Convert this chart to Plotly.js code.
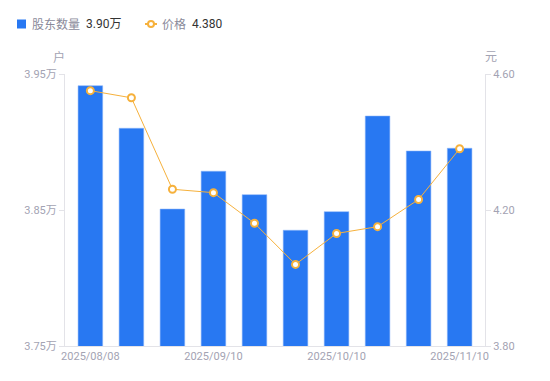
<!DOCTYPE html>
<html>
<head>
<meta charset="utf-8">
<script src="https://cdn.plot.ly/plotly-3.0.1.min.js"></script>
<style>
html,body{margin:0;padding:0;background:#fff;}
#chart{width:550px;height:381px;}
</style>
</head>
<body>
<div id="chart"></div>
<script>
// Data
var dates = ['2025/08/08','2025/08/20','2025/08/29','2025/09/10','2025/09/19','2025/09/30','2025/10/10','2025/10/20','2025/10/31','2025/11/10'];
var holders = [3.9414, 3.9101, 3.8507, 3.8785, 3.8613, 3.8351, 3.8488, 3.9191, 3.8934, 3.8954]; // 万户
var prices = [4.551, 4.530, 4.261, 4.251, 4.161, 4.040, 4.131, 4.151, 4.231, 4.380]; // 元
var xTickDates = ['2025/08/08','2025/09/10','2025/10/10','2025/11/10'];
var leftTicks = [3.75, 3.85, 3.95];
var rightTicks = [3.80, 4.20, 4.60];

var BLUE = '#2878f2';
var ORANGE = '#f6b13c';
var TICK = '#a3a3b3';

var traces = [
  {
    type: 'bar', x: dates, y: holders, yaxis: 'y', name: '股东数量',
    marker: {color: BLUE, line: {color: 'rgba(140,180,250,0.9)', width: 0.6}},
    hoverinfo: 'x+y'
  },
  {
    type: 'scatter', mode: 'lines+markers', x: dates, y: prices, yaxis: 'y2', name: '价格',
    line: {color: ORANGE, width: 1},
    marker: {symbol: 'circle', size: 7, color: '#ffffff', line: {color: ORANGE, width: 2}}
  }
];

var lastHolders = holders[holders.length - 1].toFixed(2) + '万';
var lastPrice = prices[prices.length - 1].toFixed(3);

function px(x) { return (x - 65) / 420; }
var LY = 1 + 50 / 272;

var layout = {
  width: 550, height: 381,
  margin: {l: 65, r: 65, t: 74, b: 35},
  paper_bgcolor: '#ffffff', plot_bgcolor: '#ffffff',
  showlegend: false,
  bargap: 0.4,
  font: {family: 'Roboto, "Noto Sans CJK SC", sans-serif', size: 11, color: TICK},
  xaxis: {
    type: 'category',
    tickmode: 'array', tickvals: xTickDates, ticktext: xTickDates,
    showline: true, linecolor: '#e3e3e8', linewidth: 1,
    ticks: '', showgrid: false, zeroline: false,
    tickfont: {size: 11, color: TICK},
    fixedrange: true
  },
  yaxis: {
    range: [3.75, 3.95], tickmode: 'array', tickvals: leftTicks,
    ticktext: leftTicks.map(function(v){return v.toFixed(2) + '万';}),
    showline: true, linecolor: '#e3e3e8', linewidth: 1,
    ticks: 'outside', ticklen: 5, tickcolor: '#e3e3e8',
    showgrid: false, zeroline: false,
    tickfont: {size: 11, color: TICK}
  },
  yaxis2: {
    overlaying: 'y', side: 'right',
    range: [3.8, 4.6], tickmode: 'array', tickvals: rightTicks,
    ticktext: rightTicks.map(function(v){return v.toFixed(2);}),
    showline: true, linecolor: '#e3e3e8', linewidth: 1,
    ticks: 'outside', ticklen: 5, tickcolor: '#e3e3e8',
    showgrid: false, zeroline: false,
    tickfont: {size: 11, color: TICK}
  },
  shapes: [
    {type: 'rect', xref: 'paper', yref: 'paper', x0: px(17), x1: px(26), y0: 1 + 45.5/272, y1: 1 + 54.5/272,
     fillcolor: BLUE, line: {width: 0}},
    {type: 'line', xref: 'paper', yref: 'paper', x0: px(145), x1: px(157), y0: LY, y1: LY,
     line: {color: ORANGE, width: 2}},
    {type: 'circle', xref: 'paper', yref: 'paper', x0: px(148), x1: px(154), y0: 1 + 47/272, y1: 1 + 53/272,
     fillcolor: '#ffffff', line: {color: ORANGE, width: 2}}
  ],
  annotations: [
    {xref: 'paper', yref: 'paper', x: px(30), y: LY, xanchor: 'left', yanchor: 'middle', showarrow: false,
     text: '股东数量', font: {size: 12, color: '#8a8a9a'}},
    {xref: 'paper', yref: 'paper', x: px(84), y: LY, xanchor: 'left', yanchor: 'middle', showarrow: false,
     text: lastHolders, font: {size: 12, color: '#333333'}},
    {xref: 'paper', yref: 'paper', x: px(160), y: LY, xanchor: 'left', yanchor: 'middle', showarrow: false,
     text: '价格', font: {size: 12, color: '#8a8a9a'}},
    {xref: 'paper', yref: 'paper', x: px(190), y: LY, xanchor: 'left', yanchor: 'middle', showarrow: false,
     text: lastPrice, font: {size: 12, color: '#333333'}},
    {xref: 'paper', yref: 'paper', x: 0, y: 1, xshift: -6, yshift: 17, xanchor: 'center', yanchor: 'middle', showarrow: false,
     text: '户', font: {size: 12, color: TICK}},
    {xref: 'paper', yref: 'paper', x: 1, y: 1, xshift: 6, yshift: 17, xanchor: 'center', yanchor: 'middle', showarrow: false,
     text: '元', font: {size: 12, color: TICK}}
  ]
};

Plotly.newPlot('chart', traces, layout, {displayModeBar: false, staticPlot: true});
</script>
</body>
</html>
